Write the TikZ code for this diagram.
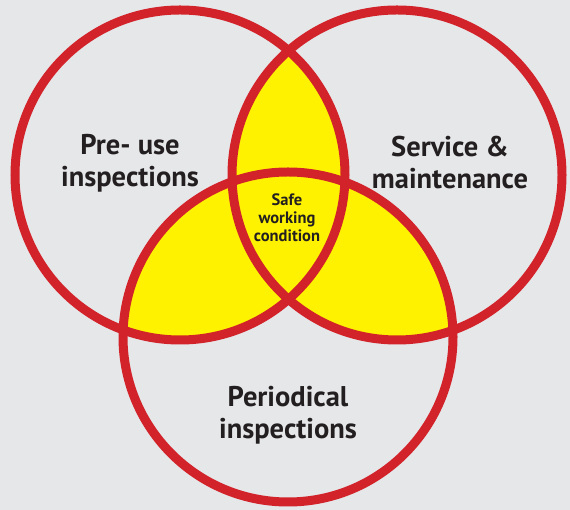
\documentclass[tikz,border=0pt]{standalone}
\usepackage{fontspec}
\setmainfont{PT Sans}
\definecolor{bggray}{HTML}{E6E7E9}
\definecolor{vred}{HTML}{D2232A}
\definecolor{vyellow}{HTML}{FFF200}
\definecolor{vtext}{HTML}{231F20}
\begin{document}
\begin{tikzpicture}[x=1pt,y=1pt,
  ring/.style={draw=vred,line width=9pt},
  biglabel/.style={text=vtext,font=\bfseries\fontsize{28.5}{32}\selectfont,align=center,inner sep=0pt},
  smalllabel/.style={text=vtext,font=\bfseries\fontsize{16.5}{18}\selectfont,align=center,inner sep=0pt}]
\fill[bggray] (0,0) rectangle (570,510);
\useasboundingbox (0,0) rectangle (570,510);
\coordinate (L) at (180,335);
\coordinate (R) at (397,335);
\coordinate (B) at (288,173);
\def\rad{165}
\begin{scope}\clip (L) circle (\rad); \fill[vyellow] (R) circle (\rad); \end{scope}
\begin{scope}\clip (L) circle (\rad); \fill[vyellow] (B) circle (\rad); \end{scope}
\begin{scope}\clip (R) circle (\rad); \fill[vyellow] (B) circle (\rad); \end{scope}
\draw[ring] (L) circle (\rad);
\draw[ring] (R) circle (\rad);
\draw[ring] (B) circle (\rad);
\node[biglabel] (pre) at (130,347) {Pre- use\\inspections};
\node[biglabel] (svc) at (450,347) {Service \&\\maintenance};
\node[biglabel] (per) at (288,95) {Periodical\\inspections};
\node[smalllabel] (safe) at (287,292) {Safe\\working\\condition};
\end{tikzpicture}
\end{document}
